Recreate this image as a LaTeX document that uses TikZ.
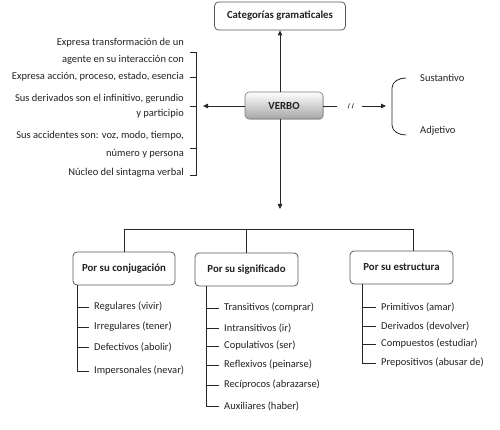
\documentclass[tikz,border=0pt]{standalone}
\usepackage{fontspec}
\setmainfont{Carlito}
\usetikzlibrary{arrows.meta,shadows,calc}
\definecolor{txt}{HTML}{222222}
\definecolor{ln}{HTML}{262626}
\definecolor{bd}{HTML}{5A5A5A}
\begin{document}
\begin{tikzpicture}[x=1pt,y=-1pt,
  every node/.style={text=txt, font=\fontsize{10.5}{12}\selectfont},
  conn/.style={draw=ln, line width=0.8pt},
  arr/.style={conn, -{Triangle[length=5pt,width=4.5pt]}},
  catbox/.style={draw=bd, line width=0.8pt, rounded corners=4pt, fill=white,
     font=\bfseries\fontsize{10.8}{12}\selectfont, inner sep=0pt},
  verbobox/.style={draw=bd!80, line width=0.6pt, rounded corners=4pt,
     top color=white, bottom color=black!35, drop shadow={shadow xshift=1pt, shadow yshift=-1pt, opacity=0.3},
     font=\bfseries\fontsize{10.8}{12}\selectfont, inner sep=0pt,
     minimum width=78pt, minimum height=27pt},
  lefttxt/.style={anchor=east, inner sep=0pt},
  item/.style={anchor=west, inner xsep=5pt, inner ysep=0pt},
]
\useasboundingbox (0,0) rectangle (500,430);

% top box and center box
\node[catbox, minimum width=131pt, minimum height=28pt] (cat) at (280,16) {Categorías gramaticales};
\node[verbobox] (verbo) at (284,105.5) {VERBO};

% up arrow
\draw[arr] (verbo.north -| cat.south) -- (cat.south);

% left arrow and bracket
\coordinate (lt) at (203,106);
\draw[arr] (verbo.west |- lt) -- (lt);
\coordinate (bt) at (196,52);
\coordinate (bb) at (196,175);
\draw[conn] ($(bt)+(-6,0)$) -- (bt) -- (bb) -- ($(bb)+(-6,0)$);
\draw[conn] (190,77) -- (196,77);
\draw[conn] (190,106) -- (196,106);
\draw[conn] (190,148) -- (196,148);

\node[lefttxt] (t1) at (184,43) {Expresa transformación de un};
\node[lefttxt] (t2) at (184,60) {agente en su interacción con};
\node[lefttxt] (t3) at (184,77) {Expresa acción, proceso, estado, esencia};
\node[lefttxt] (t4) at (184,99) {Sus derivados son el infinitivo, gerundio};
\node[lefttxt] (t5) at (184,114) {y participio};
\node[lefttxt] (t6) at (184,136) {Sus accidentes son: voz, modo, tiempo,};
\node[lefttxt] (t7) at (184,154) {número y persona};
\node[lefttxt] (t8) at (184,173) {Núcleo del sintagma verbal};

% right side
\coordinate (r1) at (337,106);
\draw[conn] (verbo.east |- r1) -- (r1);
\draw[conn, line width=0.6pt] (348,108.5) -- (349.5,103.5);
\draw[conn, line width=0.6pt] (352,108.5) -- (353.5,103.5);
\coordinate (r2) at (362,106);
\coordinate (r3) at (386,106);
\draw[arr] (r2) -- (r3);
\draw[conn] (406,78) to[out=180,in=90] (392,88) -- (392,125) to[out=-90,in=180] (406,135);
\node[anchor=west, inner sep=0pt] (sus) at (420,78) {Sustantivo};
\node[anchor=west, inner sep=0pt] (adj) at (420,131) {Adjetivo};

% down arrow
\coordinate (dn) at (280,209);
\draw[arr] (verbo.south -| dn) -- (dn);

% tree boxes
\node[catbox, minimum width=102pt, minimum height=33pt] (b1) at (124,268.5) {Por su conjugación};
\node[catbox, minimum width=103pt, minimum height=33pt] (b2) at (246.5,269.5) {Por su significado};
\node[catbox, minimum width=103pt, minimum height=33pt] (b3) at (401.5,267.5) {Por su estructura};

\coordinate (hl) at (124,229);
\coordinate (hr) at (413,229);
\draw[conn] (b1.north) -- (hl) -- (hr) -- (hr |- b3.north);
\draw[conn] (b2.north) -- (b2.north |- hl);

% list 1
\node[item] (a1) at (89,307) {Regulares (vivir)};
\node[item] (a2) at (89,327) {Irregulares (tener)};
\node[item] (a3) at (89,347) {Defectivos (abolir)};
\node[item] (a4) at (89,371) {Impersonales (nevar)};
\coordinate (va) at (77,0);
\draw[conn] (b1.south -| va) |- (a4.west);
\foreach \i in {a1,a2,a3} \draw[conn] (\i.west -| va) -- (\i.west);

% list 2
\node[item] (c1) at (219,308) {Transitivos (comprar)};
\node[item] (c2) at (219,328) {Intransitivos (ir)};
\node[item] (c3) at (219,346) {Copulativos (ser)};
\node[item] (c4) at (219,365) {Reflexivos (peinarse)};
\node[item] (c5) at (219,385) {Recíprocos (abrazarse)};
\node[item] (c6) at (219,406) {Auxiliares (haber)};
\coordinate (vc) at (206,0);
\draw[conn] (b2.south -| vc) |- (c6.west);
\foreach \i in {c1,c2,c3,c4,c5} \draw[conn] (\i.west -| vc) -- (\i.west);

% list 3
\node[item] (e1) at (376,307) {Primitivos (amar)};
\node[item] (e2) at (376,326) {Derivados (devolver)};
\node[item] (e3) at (376,344) {Compuestos (estudiar)};
\node[item] (e4) at (376,363) {Prepositivos (abusar de)};
\coordinate (ve) at (362,0);
\draw[conn] (b3.south -| ve) |- (e4.west);
\foreach \i in {e1,e2,e3} \draw[conn] (\i.west -| ve) -- (\i.west);
\end{tikzpicture}
\end{document}
